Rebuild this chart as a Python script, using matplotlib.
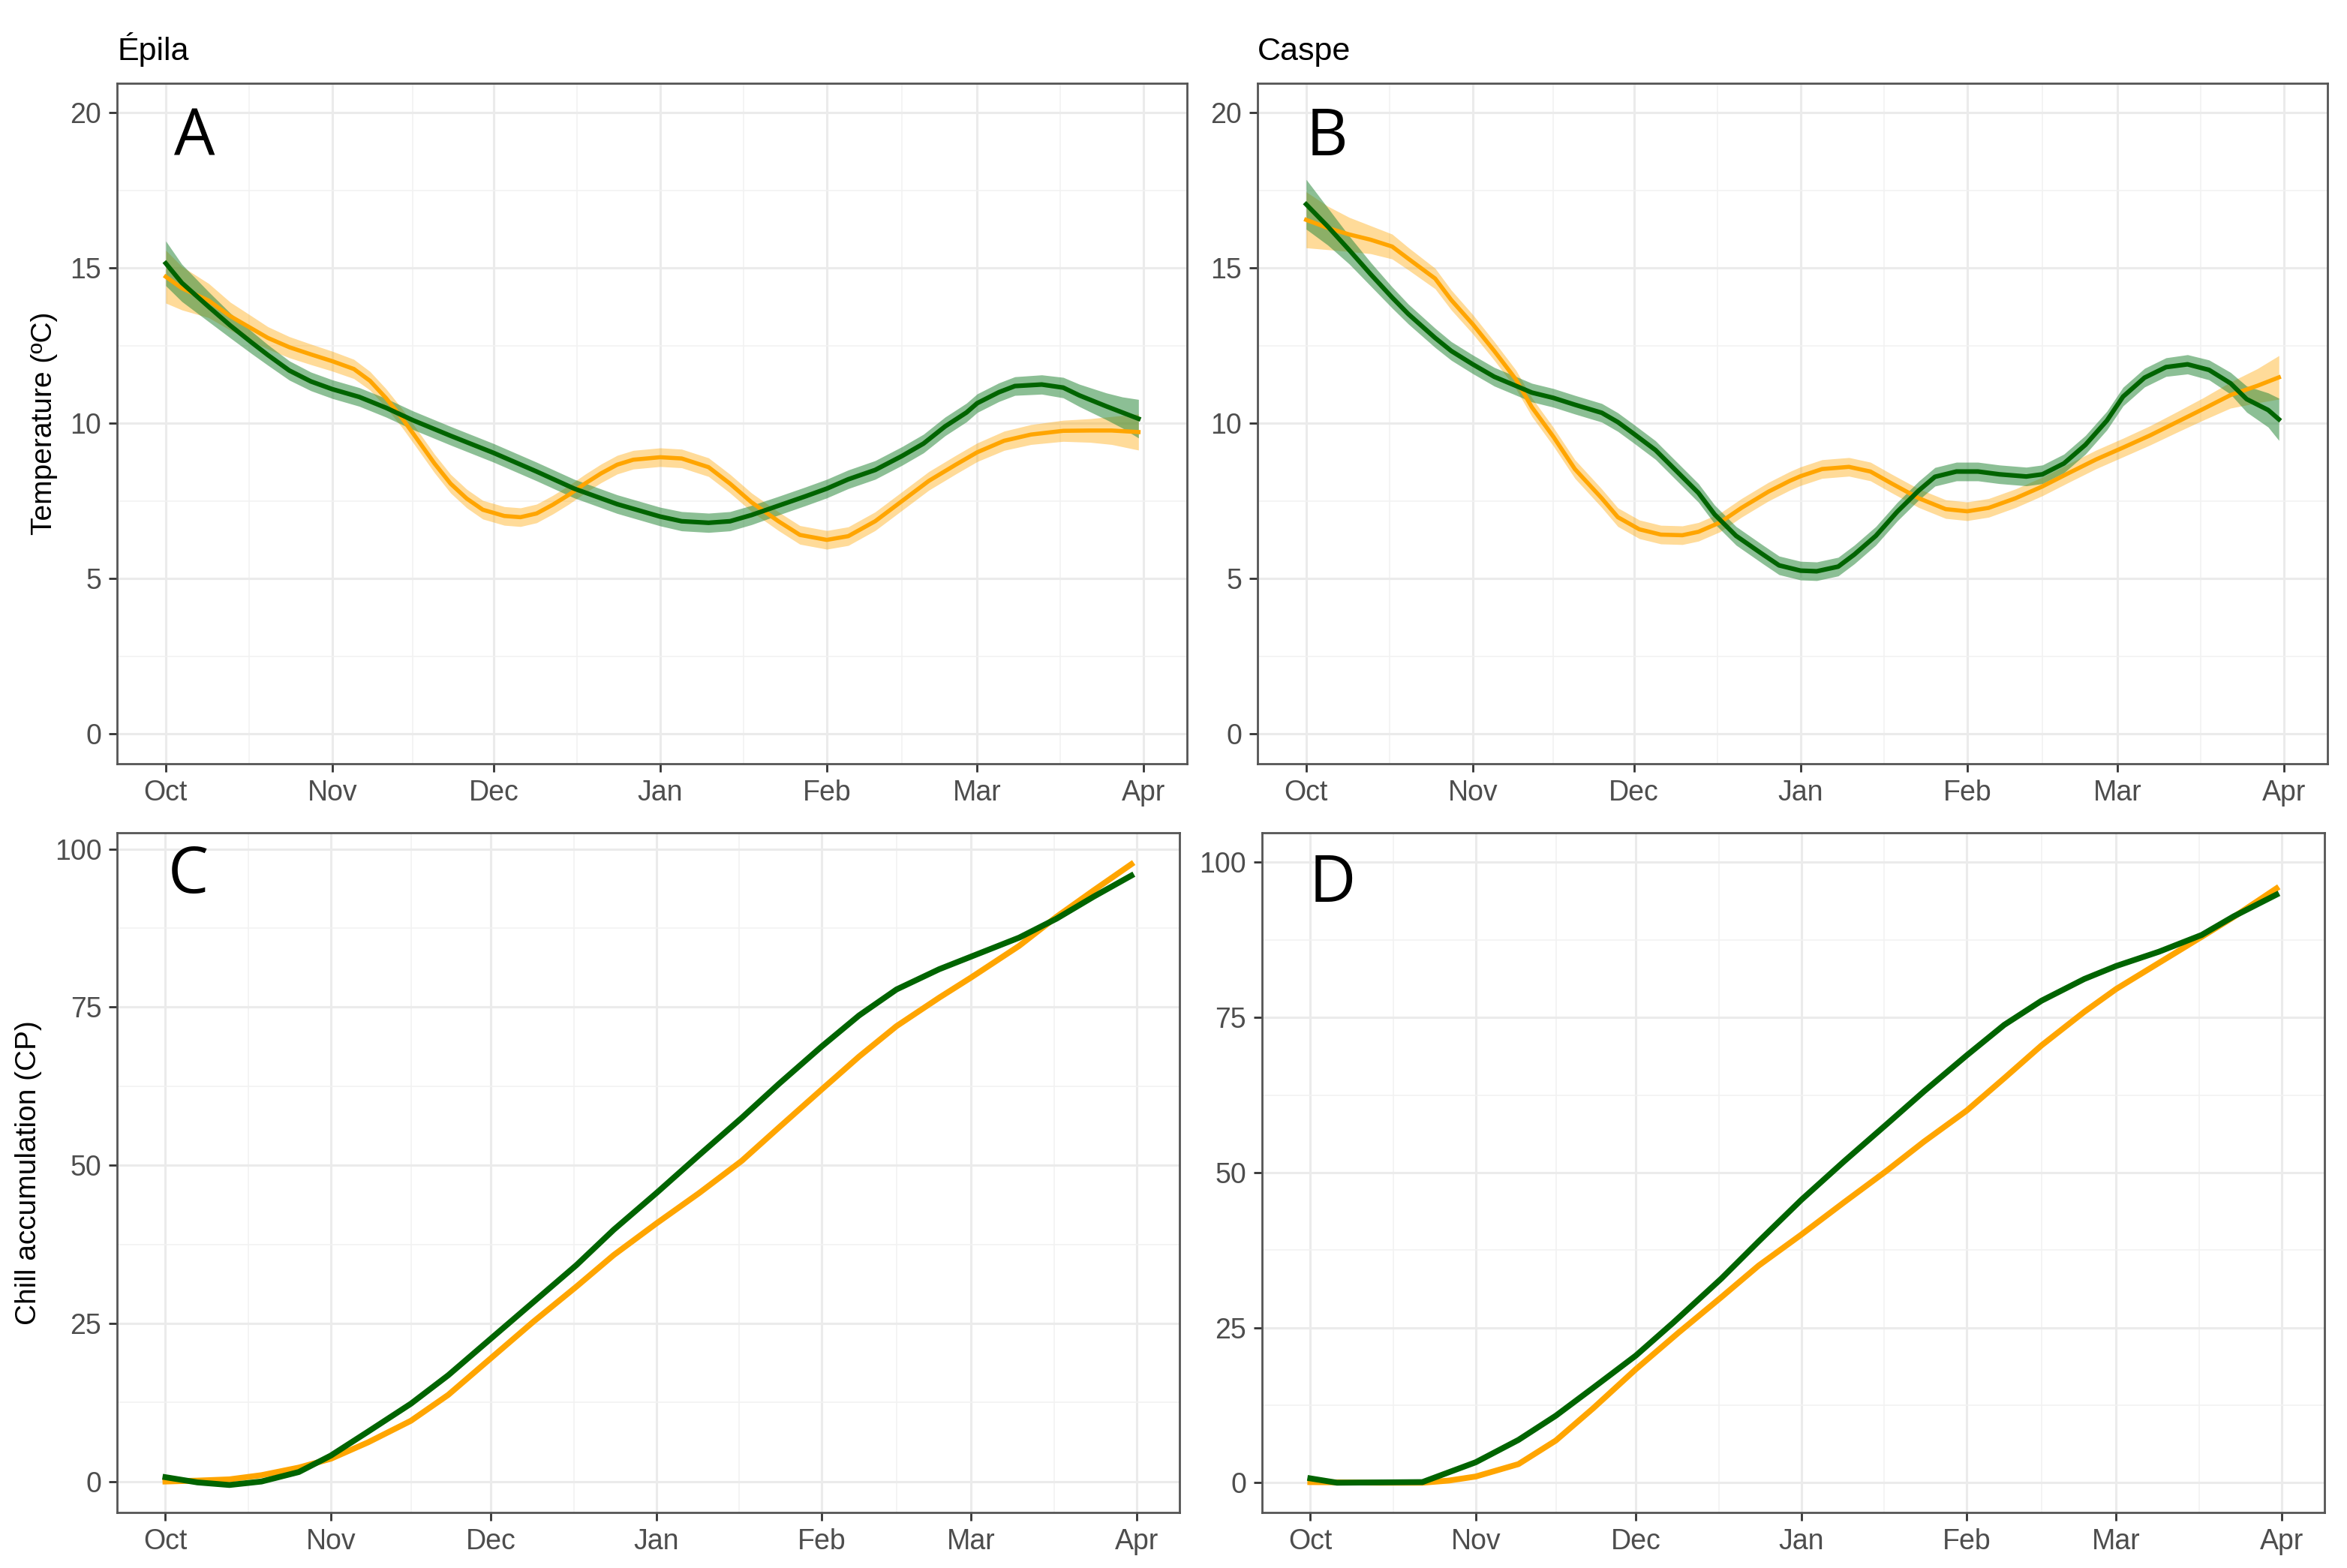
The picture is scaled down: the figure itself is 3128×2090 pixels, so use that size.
import numpy as np
import pandas as pd
import matplotlib
matplotlib.use("Agg")
from matplotlib import pyplot as plt
import matplotlib.dates as mdates
from matplotlib.ticker import FixedLocator

# all x values are days after 1 October

# Epila temperature (green and orange smooths, with ribbon half-widths)
epila_green_days = [0, 3, 8, 12, 16, 19, 23, 27, 31, 36, 41, 46, 53, 61, 69, 76, 84, 92, 96, 101,
                    105, 109, 114, 119, 123, 127, 132, 137, 141, 145, 149, 151, 155, 158, 163, 167, 170, 175, 178, 181]
epila_green = [15.15, 14.52, 13.75, 13.15, 12.6, 12.2, 11.7, 11.35, 11.1, 10.85, 10.5, 10.1, 9.6, 9.05, 8.45, 7.9, 7.4, 7.0, 6.85, 6.8,
               6.85, 7.05, 7.35, 7.65, 7.9, 8.2, 8.5, 8.95, 9.35, 9.9, 10.35, 10.65, 11.0, 11.2, 11.25, 11.15, 10.9, 10.55, 10.35, 10.15]
epila_green_se = [0.72, 0.6, 0.48, 0.4, 0.36, 0.33, 0.31, 0.3, 0.3, 0.3, 0.3, 0.3, 0.3, 0.3, 0.3, 0.3, 0.3, 0.3, 0.31, 0.31,
                  0.31, 0.31, 0.3, 0.3, 0.3, 0.3, 0.3, 0.3, 0.3, 0.3, 0.3, 0.3, 0.3, 0.3, 0.31, 0.33, 0.36, 0.43, 0.5, 0.62]

epila_orange_days = [0, 3, 8, 12, 16, 19, 23, 27, 31, 35, 38, 41, 44, 47, 50, 53, 56, 59, 63, 66,
                     69, 72, 75, 78, 81, 84, 87, 92, 96, 101, 105, 109, 114, 118, 123, 127, 132, 137, 142, 147,
                     151, 156, 161, 167, 172, 176, 181]
epila_orange = [14.72, 14.35, 13.95, 13.45, 13.05, 12.75, 12.45, 12.22, 12.0, 11.75, 11.37, 10.81, 10.16, 9.44, 8.71, 8.06, 7.58, 7.22, 7.02, 6.98,
                7.1, 7.38, 7.7, 8.06, 8.39, 8.67, 8.83, 8.91, 8.87, 8.59, 8.06, 7.46, 6.85, 6.41, 6.25, 6.37, 6.85, 7.5, 8.15, 8.67,
                9.07, 9.44, 9.64, 9.76, 9.77, 9.77, 9.72]
epila_orange_se = [0.85, 0.7, 0.55, 0.45, 0.4, 0.36, 0.34, 0.33, 0.32, 0.31, 0.3, 0.3, 0.3, 0.3, 0.3, 0.3, 0.3, 0.3, 0.3, 0.3,
                   0.3, 0.3, 0.3, 0.3, 0.3, 0.3, 0.3, 0.3, 0.3, 0.3, 0.3, 0.3, 0.3, 0.3, 0.3, 0.3, 0.3, 0.3, 0.3, 0.3,
                   0.3, 0.31, 0.32, 0.34, 0.38, 0.45, 0.58]

# Caspe temperature
caspe_green_days = [0, 4, 8, 12, 16, 19, 24, 27, 31, 35, 39, 42, 46, 50, 55, 58, 61, 65, 69, 73,
                    76, 80, 85, 88, 92, 95, 99, 102, 106, 110, 114, 117, 121, 125, 129, 134, 137, 141, 145, 149,
                    152, 156, 160, 164, 168, 172, 175, 179, 181]
caspe_green = [17.05, 16.34, 15.58, 14.8, 14.05, 13.52, 12.75, 12.33, 11.9, 11.5, 11.21, 10.99, 10.82, 10.6, 10.34, 10.04, 9.66, 9.14, 8.45, 7.76,
               7.07, 6.38, 5.78, 5.43, 5.26, 5.24, 5.39, 5.78, 6.38, 7.16, 7.84, 8.28, 8.45, 8.45, 8.36, 8.29, 8.36, 8.71, 9.31, 10.09,
               10.86, 11.47, 11.81, 11.9, 11.72, 11.29, 10.78, 10.43, 10.13]
caspe_green_se = [0.8, 0.6, 0.45, 0.38, 0.34, 0.32, 0.31, 0.3, 0.3, 0.3, 0.3, 0.3, 0.3, 0.3, 0.3, 0.3, 0.3, 0.3, 0.3, 0.3,
                  0.3, 0.3, 0.3, 0.3, 0.3, 0.3, 0.3, 0.3, 0.3, 0.3, 0.3, 0.3, 0.3, 0.3, 0.3, 0.3, 0.3, 0.3, 0.3, 0.3,
                  0.3, 0.3, 0.3, 0.31, 0.32, 0.35, 0.42, 0.55, 0.68]

caspe_orange_days = [0, 4, 8, 12, 16, 19, 24, 27, 31, 35, 39, 42, 46, 50, 55, 58, 62, 66, 70, 73,
                     77, 81, 86, 90, 92, 96, 101, 105, 109, 114, 119, 123, 127, 132, 137, 142, 147, 152, 157, 162,
                     167, 172, 177, 181]
caspe_orange = [16.55, 16.29, 16.08, 15.91, 15.69, 15.3, 14.66, 13.97, 13.19, 12.33, 11.42, 10.52, 9.57, 8.53, 7.59, 6.98, 6.59, 6.42, 6.4, 6.51,
                6.81, 7.28, 7.8, 8.15, 8.3, 8.53, 8.6, 8.45, 8.06, 7.59, 7.24, 7.17, 7.28, 7.59, 7.97, 8.41, 8.84, 9.22, 9.61, 10.04,
                10.47, 10.91, 11.21, 11.48]
caspe_orange_se = [0.9, 0.7, 0.55, 0.45, 0.4, 0.36, 0.33, 0.32, 0.31, 0.3, 0.3, 0.3, 0.3, 0.3, 0.3, 0.3, 0.3, 0.3, 0.3, 0.3,
                   0.3, 0.3, 0.3, 0.3, 0.3, 0.3, 0.3, 0.3, 0.3, 0.3, 0.3, 0.3, 0.3, 0.3, 0.3, 0.3, 0.3, 0.3, 0.31, 0.33,
                   0.36, 0.42, 0.55, 0.7]

# chill accumulation
epila_chill_days = [0, 6, 12, 18, 25, 31, 38, 46, 53, 61, 69, 77, 84, 92, 100, 108, 115, 123, 130, 137,
                    145, 151, 160, 167, 174, 181]
epila_chill_green = [0.68, -0.14, -0.55, 0.0, 1.5, 4.1, 7.9, 12.3, 16.8, 22.6, 28.4, 34.2, 39.8, 45.6, 51.6, 57.5, 62.9, 68.8, 73.7, 77.8,
                     81.0, 83.0, 86.0, 89.0, 92.5, 95.8]
epila_chill_orange = [0.0, 0.14, 0.34, 1.0, 2.2, 3.6, 6.2, 9.6, 13.7, 19.5, 25.3, 30.8, 35.8, 40.8, 45.6, 50.7, 56.0, 62.0, 67.2, 72.0,
                      76.5, 79.7, 84.7, 89.3, 93.5, 97.6]

caspe_chill_green_days = [0, 5, 13, 21, 26, 31, 39, 46, 53, 61, 68, 77, 84, 92, 100, 108, 115, 123, 130, 137,
                          145, 151, 159, 167, 173, 181]
caspe_chill_green = [0.7, 0.0, 0.05, 0.1, 1.7, 3.3, 6.9, 10.8, 15.3, 20.5, 25.8, 32.9, 38.9, 45.6, 51.8, 57.8, 63.1, 68.9, 73.8, 77.7,
                     81.2, 83.3, 85.6, 88.3, 91.3, 94.8]
caspe_chill_orange_days = [0, 13, 21, 26, 31, 39, 46, 53, 61, 69, 77, 84, 92, 100, 108, 115, 123, 130, 137, 145,
                           151, 159, 167, 173, 181]
caspe_chill_orange = [0.1, 0.0, 0.0, 0.35, 1.0, 3.0, 6.8, 12.0, 18.3, 24.2, 29.9, 35.0, 40.0, 45.2, 50.3, 55.0, 60.0, 65.2, 70.5, 75.9,
                      79.6, 83.8, 88.0, 91.2, 95.8]

start = pd.Timestamp("2020-10-01")
months = pd.date_range("2020-10-01", "2021-04-01", freq="MS")

GREEN = "#006400"
GREEN_FILL = "#2e8b3e"
ORANGE = "#FFA500"
NARROW = ["Liberation Sans Narrow", "Liberation Sans", "DejaVu Sans"]


def to_dates(days):
    return start + pd.to_timedelta(days, unit="D")


def setup(ax, ylim, yticks, yminor):
    x0 = mdates.date2num(start)
    ax.set_xlim(x0 - 9.05, x0 + 190.05)
    ax.set_ylim(*ylim)
    mnum = mdates.date2num(months)
    ax.xaxis.set_major_locator(FixedLocator(mnum))
    ax.xaxis.set_minor_locator(FixedLocator((mnum[:-1] + mnum[1:]) / 2))
    ax.set_xticklabels([m.strftime("%b") for m in months])
    ax.set_yticks(yticks)
    ax.set_yticks(yminor, minor=True)
    ax.grid(which="major", color="#ebebeb", lw=1.1)
    ax.grid(which="minor", color="#f2f2f2", lw=0.6)
    ax.set_axisbelow(True)
    for s in ax.spines.values():
        s.set_color("#555555")
        s.set_linewidth(1.0)
    ax.tick_params(which="major", length=4, width=1.0, color="#333333",
                   labelcolor="#4d4d4d", labelsize=13.5)
    ax.tick_params(which="minor", length=0)
    for lab in ax.get_xticklabels() + ax.get_yticklabels():
        lab.set_family(NARROW)


def smooth_band(ax, days, vals, se, line_col, fill_col, alpha, lw):
    d = to_dates(days)
    v = np.array(vals)
    s = np.array(se)
    ax.fill_between(d, v - s, v + s, color=fill_col, alpha=alpha, lw=0)
    ax.plot(d, v, color=line_col, lw=lw, solid_joinstyle="round")


fig = plt.figure(figsize=(15.64, 10.45), dpi=200)
axA = fig.add_axes([0.0499, 0.513, 0.4559, 0.434])
axB = fig.add_axes([0.5358, 0.513, 0.4559, 0.434])
axC = fig.add_axes([0.0499, 0.0354, 0.4527, 0.4336])
axD = fig.add_axes([0.5377, 0.0354, 0.4528, 0.4336])

smooth_band(axA, epila_orange_days, epila_orange, epila_orange_se, ORANGE, ORANGE, 0.4, 2.0)
smooth_band(axA, epila_green_days, epila_green, epila_green_se, GREEN, GREEN_FILL, 0.55, 2.2)
setup(axA, (-0.95, 20.95), [0, 5, 10, 15, 20], [2.5, 7.5, 12.5, 17.5])

smooth_band(axB, caspe_orange_days, caspe_orange, caspe_orange_se, ORANGE, ORANGE, 0.4, 2.0)
smooth_band(axB, caspe_green_days, caspe_green, caspe_green_se, GREEN, GREEN_FILL, 0.55, 2.2)
setup(axB, (-0.95, 20.95), [0, 5, 10, 15, 20], [2.5, 7.5, 12.5, 17.5])

axC.plot(to_dates(epila_chill_days), epila_chill_orange, color=ORANGE, lw=2.8, solid_joinstyle="round")
axC.plot(to_dates(epila_chill_days), epila_chill_green, color=GREEN, lw=2.8, solid_joinstyle="round")
setup(axC, (-4.9, 102.6), [0, 25, 50, 75, 100], [12.5, 37.5, 62.5, 87.5])

axD.plot(to_dates(caspe_chill_orange_days), caspe_chill_orange, color=ORANGE, lw=2.8, solid_joinstyle="round")
axD.plot(to_dates(caspe_chill_green_days), caspe_chill_green, color=GREEN, lw=2.8, solid_joinstyle="round")
setup(axD, (-4.8, 104.8), [0, 25, 50, 75, 100], [12.5, 37.5, 62.5, 87.5])

axA.set_ylabel("Temperature (ºC)", fontsize=14, family=["Liberation Sans", "DejaVu Sans"], labelpad=6)
axC.set_ylabel("Chill accumulation (CP)", fontsize=14, family=["Liberation Sans", "DejaVu Sans"], labelpad=6)

fig.text(0.0499, 1 - 40 / 1045, "Épila", fontsize=15.5, family=NARROW, va="baseline")
fig.text(0.5358, 1 - 40 / 1045, "Caspe", fontsize=15.5, family=NARROW, va="baseline")

for ax, letter, x, y in [(axA, "A", 0.053, 0.918), (axB, "B", 0.045, 0.918),
                         (axC, "C", 0.048, 0.936), (axD, "D", 0.044, 0.923)]:
    ax.text(x, y, letter, transform=ax.transAxes, fontsize=31,
            family=["Open Sans", "DejaVu Sans"], va="center", ha="left")

fig.savefig("out.png", dpi=200)
